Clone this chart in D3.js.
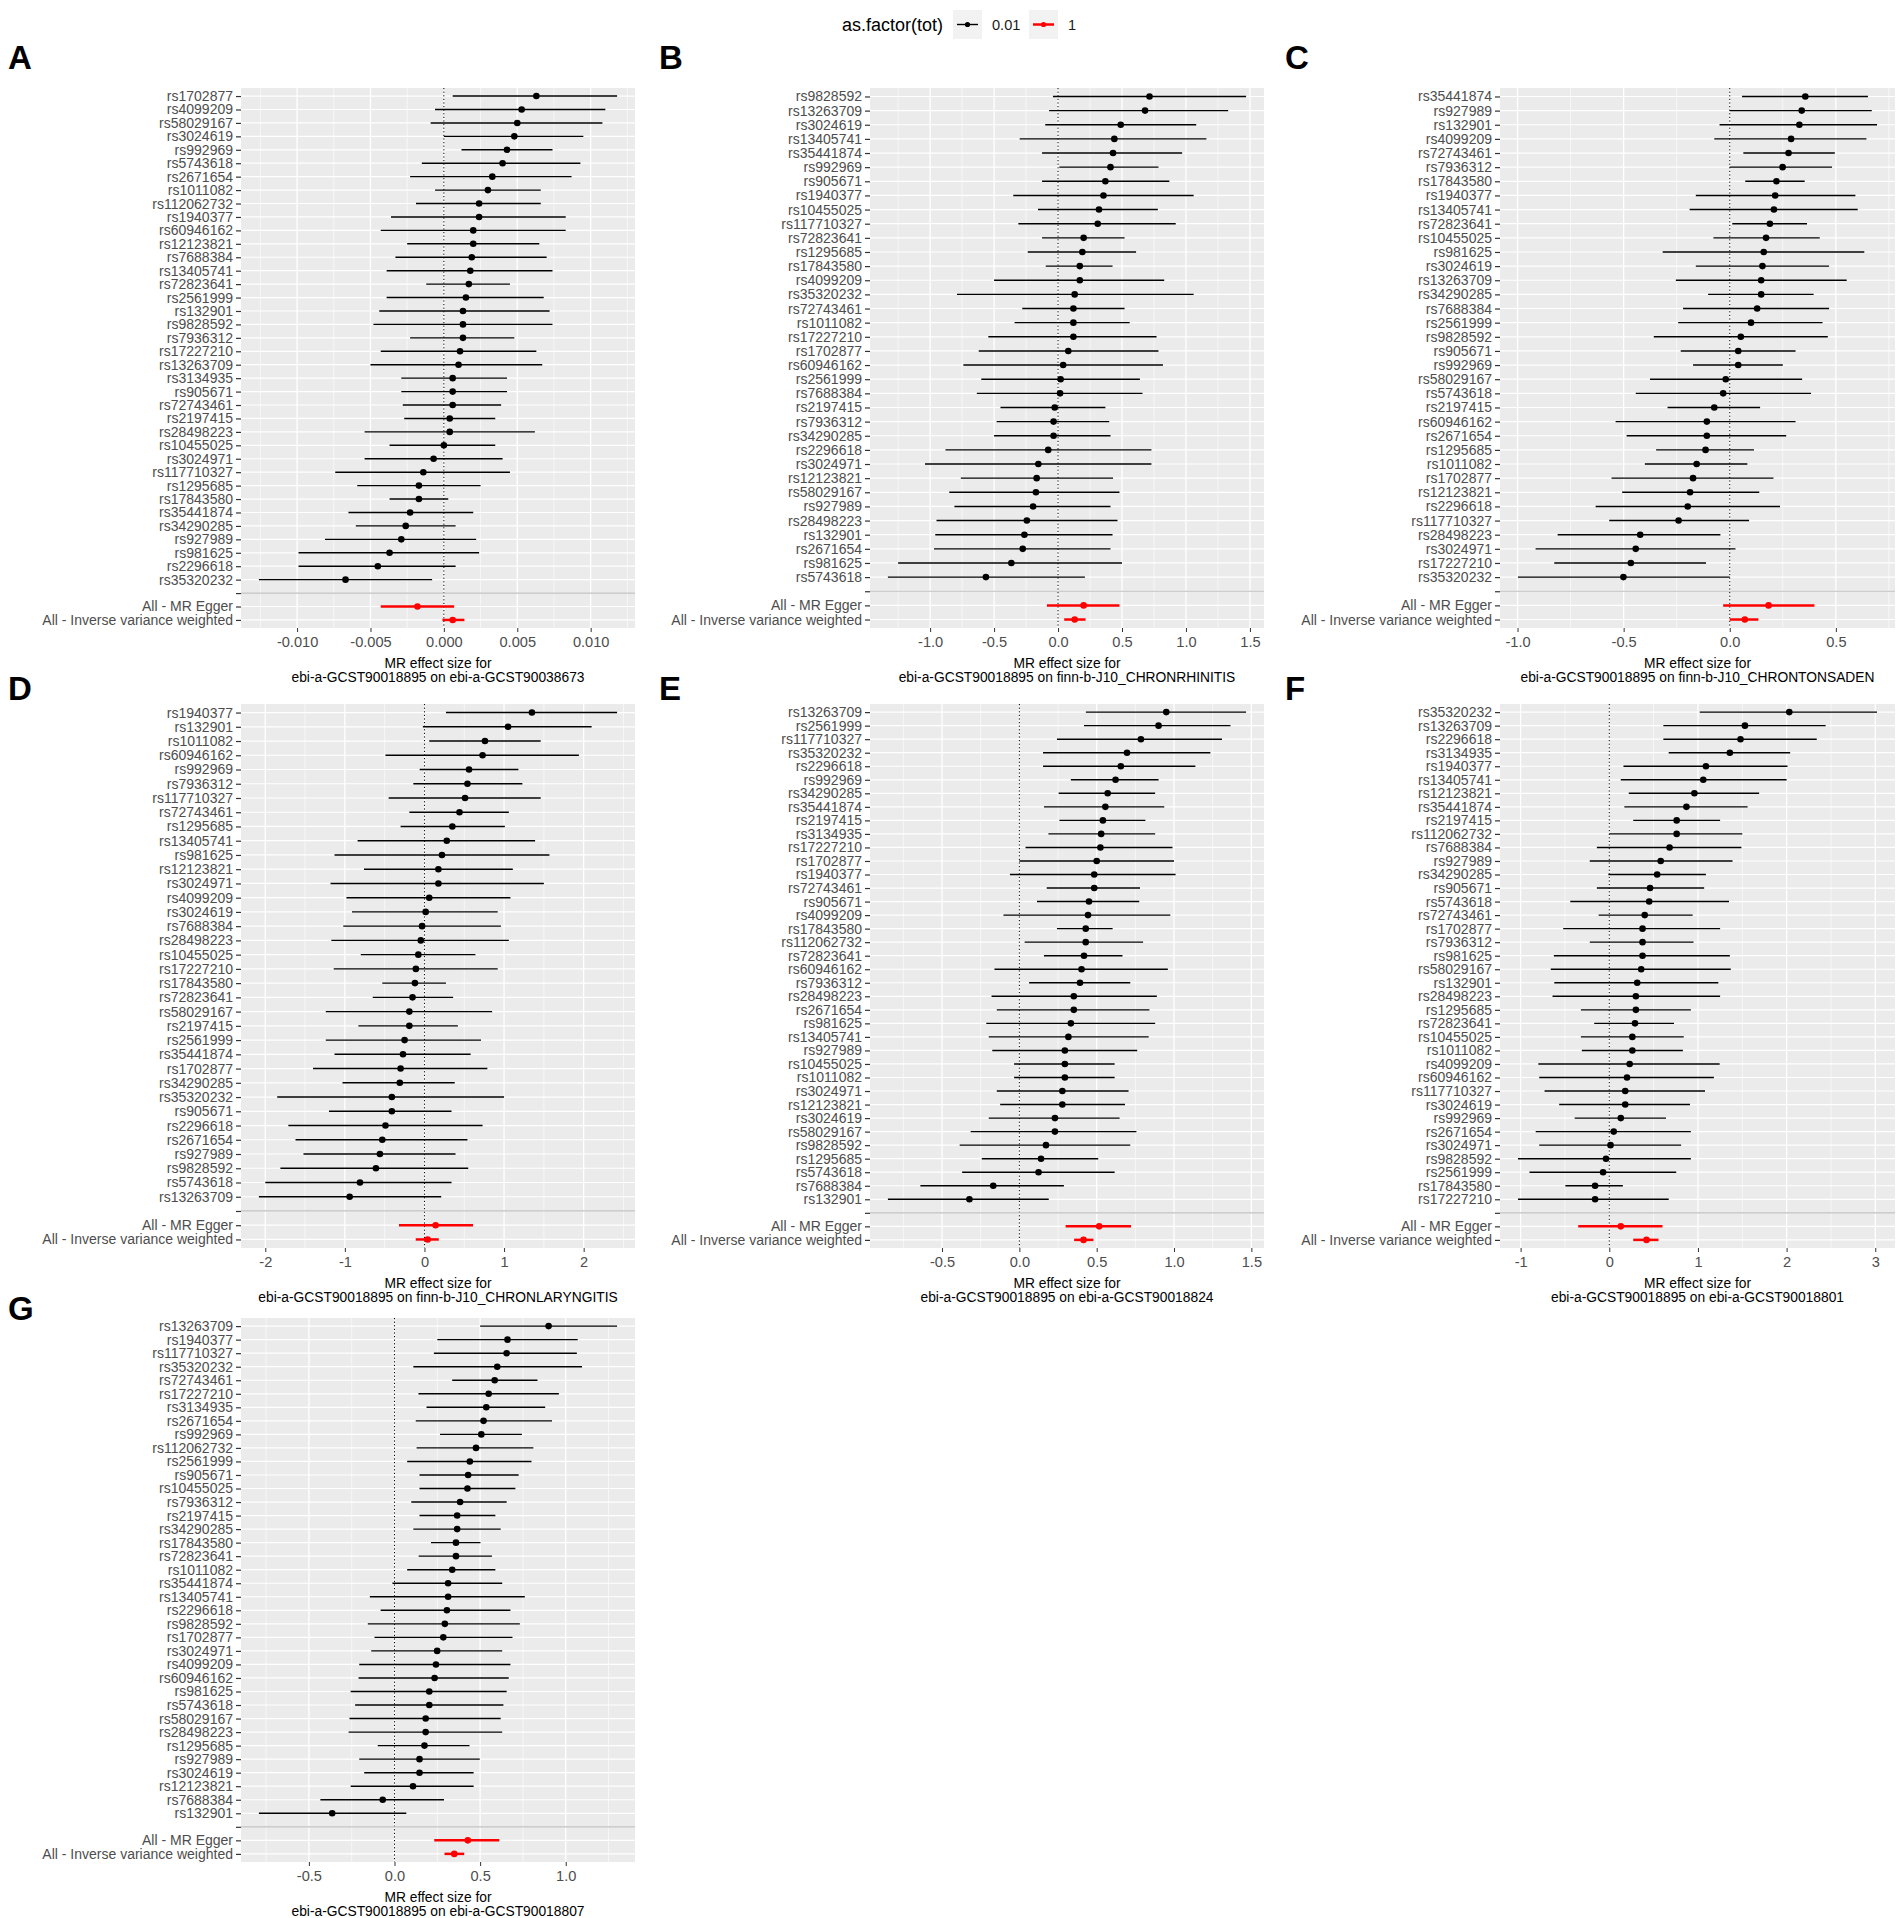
<!DOCTYPE html>
<html>
<head>
<meta charset="utf-8">
<script src="https://cdn.jsdelivr.net/npm/d3@7"></script>
<style>
  body { margin: 0; background: #fff; }
  text { font-family: "Liberation Sans", Arial, sans-serif; }
</style>
</head>
<body>
<div id="fig"></div>
<script>
// single SNP rows: [snp, b, lo, hi]
const rowsA = [
  ["rs1702877", 0.0063, 0.0006, 0.0118], ["rs4099209", 0.0053, -0.0006, 0.0110],
  ["rs58029167", 0.0050, -0.0009, 0.0108], ["rs3024619", 0.0048, 0.0000, 0.0095],
  ["rs992969", 0.0043, 0.0012, 0.0074], ["rs5743618", 0.0040, -0.0015, 0.0093],
  ["rs2671654", 0.0033, -0.0023, 0.0087], ["rs1011082", 0.0030, -0.0006, 0.0066],
  ["rs112062732", 0.0024, -0.0019, 0.0066], ["rs1940377", 0.0024, -0.0036, 0.0083],
  ["rs60946162", 0.0020, -0.0043, 0.0083], ["rs12123821", 0.0020, -0.0025, 0.0065],
  ["rs7688384", 0.0019, -0.0033, 0.0070], ["rs13405741", 0.0018, -0.0039, 0.0074],
  ["rs72823641", 0.0017, -0.0012, 0.0045], ["rs2561999", 0.0015, -0.0039, 0.0068],
  ["rs132901", 0.0013, -0.0044, 0.0072], ["rs9828592", 0.0013, -0.0048, 0.0074],
  ["rs7936312", 0.0013, -0.0023, 0.0048], ["rs17227210", 0.0011, -0.0043, 0.0063],
  ["rs13263709", 0.0010, -0.0050, 0.0067], ["rs3134935", 0.0006, -0.0029, 0.0043],
  ["rs905671", 0.0006, -0.0029, 0.0043], ["rs72743461", 0.0006, -0.0028, 0.0039],
  ["rs2197415", 0.0004, -0.0027, 0.0035], ["rs28498223", 0.0004, -0.0054, 0.0062],
  ["rs10455025", 0.0000, -0.0037, 0.0035], ["rs3024971", -0.0007, -0.0054, 0.0040],
  ["rs117710327", -0.0014, -0.0074, 0.0045], ["rs1295685", -0.0017, -0.0059, 0.0025],
  ["rs17843580", -0.0017, -0.0037, 0.0003], ["rs35441874", -0.0023, -0.0065, 0.0020],
  ["rs34290285", -0.0026, -0.0060, 0.0008], ["rs927989", -0.0029, -0.0081, 0.0022],
  ["rs981625", -0.0037, -0.0099, 0.0024], ["rs2296618", -0.0045, -0.0099, 0.0008],
  ["rs35320232", -0.0067, -0.0126, -0.0008]
];
const rowsB = [
  ["rs9828592", 0.715, -0.04, 1.47], ["rs13263709", 0.68, -0.07, 1.33],
  ["rs3024619", 0.49, -0.10, 1.08], ["rs13405741", 0.44, -0.30, 1.16],
  ["rs35441874", 0.43, -0.125, 0.97], ["rs992969", 0.41, 0.01, 0.785],
  ["rs905671", 0.37, -0.125, 0.87], ["rs1940377", 0.355, -0.35, 1.06],
  ["rs10455025", 0.32, -0.157, 0.78], ["rs117710327", 0.31, -0.31, 0.92],
  ["rs72823641", 0.20, -0.125, 0.52], ["rs1295685", 0.19, -0.237, 0.61],
  ["rs17843580", 0.17, -0.096, 0.426], ["rs4099209", 0.17, -0.50, 0.83],
  ["rs35320232", 0.13, -0.79, 1.06], ["rs72743461", 0.12, -0.28, 0.52],
  ["rs1011082", 0.12, -0.34, 0.56], ["rs17227210", 0.12, -0.545, 0.77],
  ["rs1702877", 0.08, -0.62, 0.785], ["rs60946162", 0.04, -0.74, 0.82],
  ["rs2561999", 0.02, -0.60, 0.64], ["rs7688384", 0.016, -0.635, 0.66],
  ["rs2197415", -0.026, -0.45, 0.37], ["rs7936312", -0.035, -0.48, 0.40],
  ["rs34290285", -0.035, -0.50, 0.41], ["rs2296618", -0.077, -0.88, 0.73],
  ["rs3024971", -0.154, -1.04, 0.73], ["rs12123821", -0.167, -0.76, 0.43],
  ["rs58029167", -0.173, -0.85, 0.48], ["rs927989", -0.195, -0.81, 0.41],
  ["rs28498223", -0.244, -0.95, 0.465], ["rs132901", -0.263, -0.96, 0.426],
  ["rs2671654", -0.276, -0.97, 0.41], ["rs981625", -0.365, -1.25, 0.50],
  ["rs5743618", -0.564, -1.33, 0.21]
];
const rowsC = [
  ["rs35441874", 0.356, 0.058, 0.651], ["rs927989", 0.339, 0.0, 0.669],
  ["rs132901", 0.328, -0.048, 0.694], ["rs4099209", 0.289, -0.073, 0.644],
  ["rs72743461", 0.277, 0.064, 0.495], ["rs7936312", 0.249, 0.0, 0.482],
  ["rs17843580", 0.22, 0.073, 0.353], ["rs1940377", 0.214, -0.16, 0.592],
  ["rs13405741", 0.208, -0.189, 0.603], ["rs72823641", 0.189, 0.012, 0.364],
  ["rs10455025", 0.171, -0.077, 0.424], ["rs981625", 0.16, -0.316, 0.634],
  ["rs3024619", 0.154, -0.16, 0.468], ["rs13263709", 0.148, -0.254, 0.551],
  ["rs34290285", 0.148, -0.102, 0.395], ["rs7688384", 0.129, -0.22, 0.468],
  ["rs2561999", 0.10, -0.243, 0.437], ["rs9828592", 0.052, -0.358, 0.462],
  ["rs905671", 0.04, -0.231, 0.31], ["rs992969", 0.04, -0.173, 0.25],
  ["rs58029167", -0.019, -0.376, 0.341], ["rs5743618", -0.031, -0.443, 0.383],
  ["rs2197415", -0.073, -0.293, 0.143], ["rs60946162", -0.108, -0.538, 0.31],
  ["rs2671654", -0.108, -0.486, 0.266], ["rs1295685", -0.114, -0.347, 0.114],
  ["rs1011082", -0.156, -0.40, 0.083], ["rs1702877", -0.173, -0.557, 0.206],
  ["rs12123821", -0.187, -0.507, 0.139], ["rs2296618", -0.198, -0.632, 0.237],
  ["rs117710327", -0.241, -0.568, 0.091], ["rs28498223", -0.422, -0.811, -0.044],
  ["rs3024971", -0.443, -0.915, 0.027], ["rs17227210", -0.466, -0.827, -0.112],
  ["rs35320232", -0.501, -0.998, 0.0]
];
const rowsD = [
  ["rs1940377", 1.35, 0.27, 2.42], ["rs132901", 1.05, -0.02, 2.10],
  ["rs1011082", 0.76, 0.06, 1.46], ["rs60946162", 0.73, -0.49, 1.94],
  ["rs992969", 0.56, -0.06, 1.18], ["rs7936312", 0.54, -0.14, 1.23],
  ["rs117710327", 0.51, -0.45, 1.46], ["rs72743461", 0.44, -0.19, 1.06],
  ["rs1295685", 0.35, -0.30, 1.01], ["rs13405741", 0.28, -0.84, 1.39],
  ["rs981625", 0.22, -1.13, 1.57], ["rs12123821", 0.175, -0.76, 1.11],
  ["rs3024971", 0.175, -1.18, 1.50], ["rs4099209", 0.06, -0.98, 1.08],
  ["rs3024619", 0.015, -0.91, 0.92], ["rs7688384", -0.03, -1.02, 0.96],
  ["rs28498223", -0.046, -1.17, 1.06], ["rs10455025", -0.077, -0.80, 0.64],
  ["rs17227210", -0.108, -1.14, 0.92], ["rs17843580", -0.12, -0.53, 0.27],
  ["rs72823641", -0.15, -0.65, 0.36], ["rs58029167", -0.19, -1.24, 0.85],
  ["rs2197415", -0.19, -0.83, 0.42], ["rs2561999", -0.25, -1.24, 0.71],
  ["rs35441874", -0.27, -1.13, 0.58], ["rs1702877", -0.30, -1.40, 0.79],
  ["rs34290285", -0.31, -1.03, 0.38], ["rs35320232", -0.41, -1.85, 1.0],
  ["rs905671", -0.41, -1.20, 0.34], ["rs2296618", -0.49, -1.71, 0.73],
  ["rs2671654", -0.53, -1.62, 0.54], ["rs927989", -0.56, -1.52, 0.39],
  ["rs9828592", -0.61, -1.81, 0.55], ["rs5743618", -0.81, -2.00, 0.34],
  ["rs13263709", -0.94, -2.08, 0.21]
];
const rowsE = [
  ["rs13263709", 0.95, 0.43, 1.466], ["rs2561999", 0.90, 0.418, 1.365],
  ["rs117710327", 0.786, 0.243, 1.31], ["rs35320232", 0.696, 0.153, 1.235],
  ["rs2296618", 0.656, 0.153, 1.138], ["rs992969", 0.622, 0.333, 0.90],
  ["rs34290285", 0.571, 0.254, 0.878], ["rs35441874", 0.556, 0.159, 0.937],
  ["rs2197415", 0.54, 0.259, 0.815], ["rs3134935", 0.529, 0.188, 0.878],
  ["rs17227210", 0.524, 0.04, 0.99], ["rs1702877", 0.50, 0.0, 1.0],
  ["rs1940377", 0.484, -0.061, 1.01], ["rs72743461", 0.484, 0.177, 0.78],
  ["rs905671", 0.45, 0.114, 0.775], ["rs4099209", 0.444, -0.103, 0.976],
  ["rs17843580", 0.429, 0.243, 0.603], ["rs112062732", 0.429, 0.034, 0.80],
  ["rs72823641", 0.418, 0.159, 0.667], ["rs60946162", 0.402, -0.161, 0.96],
  ["rs7936312", 0.392, 0.063, 0.717], ["rs28498223", 0.352, -0.18, 0.889],
  ["rs2671654", 0.352, -0.146, 0.841], ["rs981625", 0.333, -0.214, 0.878],
  ["rs13405741", 0.317, -0.198, 0.836], ["rs927989", 0.294, -0.175, 0.762],
  ["rs10455025", 0.294, -0.034, 0.616], ["rs1011082", 0.294, -0.034, 0.616],
  ["rs3024971", 0.278, -0.146, 0.706], ["rs12123821", 0.278, -0.124, 0.683],
  ["rs3024619", 0.23, -0.198, 0.648], ["rs58029167", 0.23, -0.315, 0.757],
  ["rs9828592", 0.172, -0.386, 0.717], ["rs1295685", 0.14, -0.243, 0.51],
  ["rs5743618", 0.124, -0.37, 0.616], ["rs7688384", -0.169, -0.64, 0.288],
  ["rs132901", -0.323, -0.85, 0.19]
];
const rowsF = [
  ["rs35320232", 2.03, 1.02, 3.02], ["rs13263709", 1.53, 0.61, 2.44],
  ["rs2296618", 1.48, 0.61, 2.34], ["rs3134935", 1.36, 0.67, 2.04],
  ["rs1940377", 1.09, 0.16, 2.01], ["rs13405741", 1.06, 0.13, 2.0],
  ["rs12123821", 0.96, 0.22, 1.69], ["rs35441874", 0.87, 0.17, 1.56],
  ["rs2197415", 0.76, 0.27, 1.25], ["rs112062732", 0.76, 0.0, 1.50],
  ["rs7688384", 0.68, -0.14, 1.49], ["rs927989", 0.58, -0.22, 1.39],
  ["rs34290285", 0.54, -0.01, 1.09], ["rs905671", 0.46, -0.14, 1.07],
  ["rs5743618", 0.45, -0.44, 1.35], ["rs72743461", 0.40, -0.12, 0.94],
  ["rs1702877", 0.375, -0.52, 1.25], ["rs7936312", 0.375, -0.22, 0.95],
  ["rs981625", 0.375, -0.625, 1.36], ["rs58029167", 0.36, -0.66, 1.37],
  ["rs132901", 0.315, -0.62, 1.23], ["rs28498223", 0.30, -0.64, 1.25],
  ["rs1295685", 0.30, -0.32, 0.92], ["rs72823641", 0.29, -0.17, 0.73],
  ["rs10455025", 0.26, -0.32, 0.84], ["rs1011082", 0.26, -0.31, 0.83],
  ["rs4099209", 0.23, -0.80, 1.245], ["rs60946162", 0.20, -0.79, 1.18],
  ["rs117710327", 0.18, -0.73, 1.08], ["rs3024619", 0.18, -0.565, 0.91],
  ["rs992969", 0.13, -0.39, 0.64], ["rs2671654", 0.05, -0.83, 0.92],
  ["rs3024971", 0.014, -0.79, 0.81], ["rs9828592", -0.037, -1.03, 0.92],
  ["rs2561999", -0.07, -0.90, 0.755], ["rs17843580", -0.16, -0.495, 0.153],
  ["rs17227210", -0.16, -1.03, 0.67]
];
const rowsG = [
  ["rs13263709", 0.90, 0.50, 1.30], ["rs1940377", 0.66, 0.25, 1.07],
  ["rs117710327", 0.655, 0.23, 1.065], ["rs35320232", 0.60, 0.11, 1.095],
  ["rs72743461", 0.585, 0.337, 0.835], ["rs17227210", 0.55, 0.14, 0.96],
  ["rs3134935", 0.536, 0.187, 0.88], ["rs2671654", 0.52, 0.124, 0.92],
  ["rs992969", 0.507, 0.266, 0.744], ["rs112062732", 0.476, 0.129, 0.811],
  ["rs2561999", 0.44, 0.074, 0.80], ["rs905671", 0.43, 0.146, 0.725],
  ["rs10455025", 0.426, 0.146, 0.706], ["rs7936312", 0.383, 0.098, 0.655],
  ["rs2197415", 0.366, 0.146, 0.589], ["rs34290285", 0.366, 0.11, 0.62],
  ["rs17843580", 0.359, 0.213, 0.502], ["rs72823641", 0.359, 0.141, 0.569],
  ["rs1011082", 0.337, 0.074, 0.589], ["rs35441874", 0.313, -0.012, 0.629],
  ["rs13405741", 0.313, -0.144, 0.761], ["rs2296618", 0.306, -0.081, 0.677],
  ["rs9828592", 0.294, -0.156, 0.732], ["rs1702877", 0.285, -0.117, 0.689],
  ["rs3024971", 0.249, -0.136, 0.629], ["rs4099209", 0.242, -0.206, 0.677],
  ["rs60946162", 0.234, -0.21, 0.667], ["rs981625", 0.203, -0.256, 0.655],
  ["rs5743618", 0.203, -0.23, 0.636], ["rs58029167", 0.182, -0.263, 0.62],
  ["rs28498223", 0.182, -0.268, 0.629], ["rs1295685", 0.175, -0.098, 0.438],
  ["rs927989", 0.146, -0.206, 0.498], ["rs3024619", 0.146, -0.177, 0.462],
  ["rs12123821", 0.108, -0.256, 0.462], ["rs7688384", -0.069, -0.433, 0.289],
  ["rs132901", -0.364, -0.792, 0.069]
];

// summary estimates: [b, lo, hi]
const eggerVals = [
  [-0.0018, -0.0043, 0.0007], [0.20, -0.087, 0.48], [0.183, -0.031, 0.399],
  [0.14, -0.32, 0.61], [0.516, 0.299, 0.722], [0.13, -0.35, 0.60], [0.428, 0.232, 0.612]
];
const ivwVals = [
  [0.0006, -0.0001, 0.0014], [0.13, 0.048, 0.215], [0.071, 0.0, 0.135],
  [0.04, -0.11, 0.18], [0.415, 0.354, 0.479], [0.42, 0.27, 0.555], [0.349, 0.292, 0.407]
];

const panelLetters = ["A", "B", "C", "D", "E", "F", "G"];
const outcomes = [
  "ebi-a-GCST90038673", "finn-b-J10_CHRONRHINITIS", "finn-b-J10_CHRONTONSADEN",
  "finn-b-J10_CHRONLARYNGITIS", "ebi-a-GCST90018824", "ebi-a-GCST90018801", "ebi-a-GCST90018807"
];
const xTicks = [
  [-0.010, -0.005, 0.000, 0.005, 0.010],
  [-1.0, -0.5, 0.0, 0.5, 1.0, 1.5],
  [-1.0, -0.5, 0.0, 0.5],
  [-2, -1, 0, 1, 2],
  [-0.5, 0.0, 0.5, 1.0, 1.5],
  [-1, 0, 1, 2, 3],
  [-0.5, 0.0, 0.5, 1.0]
];
const tickDecimals = [3, 1, 1, 0, 1, 0, 1];
const legendLevels = ["0.01", "1"];
const allRows = [rowsA, rowsB, rowsC, rowsD, rowsE, rowsF, rowsG];

const W = 1901, H = 1918;
const svg = d3.select("#fig").append("svg")
  .attr("width", W).attr("height", H)
  .style("display", "block");

// panel geometry (columns / rows of the figure grid)
const colLeft = [241, 870, 1500], colRight = [635, 1264, 1895];
const letterX = [8, 659, 1285];
const rowTop = [88, 704, 1318], rowBottom = [628, 1248, 1862];
const letterY = [69, 700, 1320];

const colours = { "0.01": "#000000", "1": "#FF0000" };
const widths = { "0.01": 1.4, "1": 2.5 };

function drawPanel(i) {
  const col = i % 3, row = Math.floor(i / 3);
  const left = colLeft[col], right = colRight[col];
  const top = rowTop[row], bottom = rowBottom[row];
  const g = svg.append("g");

  const snps = allRows[i].map(r => ({ snp: r[0], b: r[1], lo: r[2], hi: r[3], tot: "0.01" }));
  const summ = [
    { snp: "All - MR Egger", b: eggerVals[i][0], lo: eggerVals[i][1], hi: eggerVals[i][2], tot: "1" },
    { snp: "All - Inverse variance weighted", b: ivwVals[i][0], lo: ivwVals[i][1], hi: ivwVals[i][2], tot: "1" }
  ];
  const all = snps.concat(summ);
  const cats = snps.map(d => d.snp).concat(["", summ[0].snp, summ[1].snp]);

  const xmin = d3.min(all, d => d.lo), xmax = d3.max(all, d => d.hi);
  const pad = (xmax - xmin) * 0.05;
  const x = d3.scaleLinear().domain([xmin - pad, xmax + pad]).range([left, right]);
  const y = d3.scalePoint().domain(cats).range([top, bottom]).padding(0.6);

  // panel background
  g.append("rect")
    .attr("x", left).attr("y", top)
    .attr("width", right - left).attr("height", bottom - top)
    .attr("fill", "#EBEBEB");

  // minor vertical grid
  const ticks = xTicks[i];
  const step = ticks[1] - ticks[0];
  const dom = x.domain();
  const minors = [];
  for (let v = ticks[0] - step / 2; v <= dom[1]; v += step) {
    if (v >= dom[0]) minors.push(v);
  }
  g.selectAll(".minor").data(minors).join("line")
    .attr("x1", d => x(d)).attr("x2", d => x(d))
    .attr("y1", top).attr("y2", bottom)
    .attr("stroke", "#fff").attr("stroke-width", 0.6);

  // major grid
  g.selectAll(".majx").data(ticks).join("line")
    .attr("x1", d => x(d)).attr("x2", d => x(d))
    .attr("y1", top).attr("y2", bottom)
    .attr("stroke", "#fff").attr("stroke-width", 1.3);
  g.selectAll(".majy").data(cats).join("line")
    .attr("x1", left).attr("x2", right)
    .attr("y1", d => y(d)).attr("y2", d => y(d))
    .attr("stroke", "#fff").attr("stroke-width", 1.2);

  // dotted line at zero
  g.append("line")
    .attr("x1", x(0)).attr("x2", x(0))
    .attr("y1", top).attr("y2", bottom)
    .attr("stroke", "#000").attr("stroke-width", 1)
    .attr("stroke-dasharray", "1.2,2.4");

  // error bars
  g.selectAll(".bar").data(all).join("line")
    .attr("x1", d => x(d.lo)).attr("x2", d => x(d.hi))
    .attr("y1", d => y(d.snp)).attr("y2", d => y(d.snp))
    .attr("stroke", d => colours[d.tot])
    .attr("stroke-width", d => widths[d.tot]);

  // points
  g.selectAll(".pt").data(all).join("circle")
    .attr("cx", d => x(d.b)).attr("cy", d => y(d.snp))
    .attr("r", 3.3)
    .attr("fill", d => colours[d.tot]);

  // separator between single SNPs and summary estimates
  g.append("line")
    .attr("x1", left).attr("x2", right)
    .attr("y1", y("")).attr("y2", y(""))
    .attr("stroke", "#BEBEBE").attr("stroke-width", 1.2);

  // y axis
  const ya = g.append("g")
    .attr("transform", `translate(${left},0)`)
    .call(d3.axisLeft(y).tickSize(5).tickPadding(3));
  ya.select(".domain").remove();
  ya.selectAll(".tick line").attr("stroke", "#333").attr("stroke-width", 1.2);
  ya.selectAll(".tick text")
    .attr("fill", "#4D4D4D")
    .style("font-size", "14px")
    .style("font-family", "'Liberation Sans', Arial, sans-serif");

  // x axis
  const xa = g.append("g")
    .attr("transform", `translate(0,${bottom})`)
    .call(d3.axisBottom(x).tickValues(ticks).tickSize(4).tickPadding(5)
      .tickFormat(d => d.toFixed(tickDecimals[i])));
  xa.select(".domain").remove();
  xa.selectAll(".tick line").attr("stroke", "#333").attr("stroke-width", 1);
  xa.selectAll(".tick text")
    .attr("fill", "#4D4D4D")
    .style("font-size", "14.6px")
    .style("font-family", "'Liberation Sans', Arial, sans-serif");

  // x title
  const cx = (left + right) / 2;
  g.append("text")
    .attr("x", cx).attr("y", bottom + 40)
    .attr("text-anchor", "middle")
    .style("font-size", "13.8px")
    .text("MR effect size for");
  g.append("text")
    .attr("x", cx).attr("y", bottom + 54)
    .attr("text-anchor", "middle")
    .style("font-size", "13.8px")
    .text(`ebi-a-GCST90018895 on ${outcomes[i]}`);

  // panel tag
  g.append("text")
    .attr("x", letterX[col]).attr("y", letterY[row])
    .style("font-size", "33px")
    .style("font-weight", "bold")
    .text(panelLetters[i]);
}

d3.range(7).forEach(drawPanel);

// legend at the top
const leg = svg.append("g");
leg.append("text")
  .attr("x", 842).attr("y", 31)
  .style("font-size", "18px")
  .text("as.factor(tot)");
const keyX = [953, 1029];
legendLevels.forEach((lv, k) => {
  const kx = keyX[k];
  leg.append("rect")
    .attr("x", kx).attr("y", 10).attr("width", 29).attr("height", 29)
    .attr("fill", "#F2F2F2");
  leg.append("line")
    .attr("x1", kx + 4).attr("x2", kx + 25)
    .attr("y1", 24.5).attr("y2", 24.5)
    .attr("stroke", colours[lv]).attr("stroke-width", widths[lv]);
  leg.append("circle")
    .attr("cx", kx + 14.5).attr("cy", 24.5).attr("r", 2.6)
    .attr("fill", colours[lv]);
  leg.append("text")
    .attr("x", kx + 39).attr("y", 30)
    .style("font-size", "14.6px")
    .attr("fill", "#1A1A1A")
    .text(lv);
});
</script>
</body>
</html>
